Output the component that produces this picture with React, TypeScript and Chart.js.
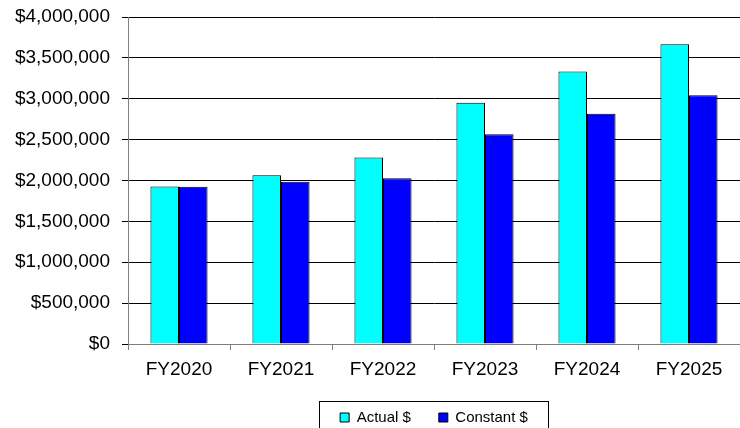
import React, { useEffect, useRef } from "react";
import { Chart, registerables } from "chart.js";

Chart.register(...registerables);

const categories = ["FY2020", "FY2021", "FY2022", "FY2023", "FY2024", "FY2025"];
const actualValues = [1927000, 2065000, 2281000, 2950000, 3333000, 3667000];
const constantValues = [1925000, 1984000, 2028000, 2566000, 2816000, 3043000];
const seriesNames = ["Actual $", "Constant $"];
const yMin = 0;
const yMax = 4000000;
const yStep = 500000;

const FONT = "'Liberation Sans', Arial, Helvetica, sans-serif";

const legendBorder = {
  id: "legendBorder",
  afterDraw(chart: any) {
    const lg = chart.legend;
    if (!lg || !lg.legendHitBoxes || !lg.legendHitBoxes.length) return;
    const boxes = lg.legendHitBoxes;
    const first = boxes[0];
    const last = boxes[boxes.length - 1];
    const left = Math.round(first.left - 21) + 0.5;
    const right = Math.round(last.left + last.width + 20) + 0.5;
    const top = Math.round(first.top - 9) + 0.5;
    const ctx = chart.ctx;
    ctx.save();
    ctx.strokeStyle = "#000";
    ctx.lineWidth = 1;
    ctx.strokeRect(left, top, right - left, 60);
    ctx.restore();
  },
};

export default function App() {
  const ref = useRef<HTMLCanvasElement | null>(null);
  useEffect(() => {
    if (!ref.current) return;
    const chart = new Chart(ref.current, {
      type: "bar",
      data: {
        labels: categories,
        datasets: [
          {
            label: seriesNames[0],
            data: actualValues,
            backgroundColor: "#00FFFF",
            borderColor: "#000",
            borderWidth: 1,
            categoryPercentage: 0.56,
            barPercentage: 1,
          },
          {
            label: seriesNames[1],
            data: constantValues,
            backgroundColor: "#0000FF",
            borderColor: "#000",
            borderWidth: 1,
            categoryPercentage: 0.56,
            barPercentage: 1,
          },
        ],
      },
      options: {
        responsive: false,
        animation: false,
        layout: { padding: { top: 17, right: 0, left: 0, bottom: -7 } },
        plugins: {
          tooltip: { enabled: false },
          legend: {
            position: "bottom",
            fullSize: false,
            labels: {
              boxWidth: 9,
              boxHeight: 9,
              padding: 28,
              color: "#000",
              font: { family: FONT, size: 15 },
            },
          },
        },
        scales: {
          x: {
            afterFit: (s: any) => {
              s.height = 38;
            },
            grid: {
              display: true,
              drawOnChartArea: false,
              drawTicks: true,
              tickLength: 6,
              color: "#808080",
            },
            border: { color: "#808080", width: 1 },
            ticks: {
              color: "#000",
              padding: 8,
              font: { family: FONT, size: 19 },
              maxRotation: 0,
            },
          },
          y: {
            min: yMin,
            max: yMax,
            afterFit: (s: any) => {
              s.width = 128;
              s.paddingTop = 0;
              s.paddingBottom = 0;
            },
            grid: {
              color: "#000",
              lineWidth: 1,
              drawTicks: true,
              tickLength: 6,
            },
            border: { color: "#808080", width: 1 },
            ticks: {
              stepSize: yStep,
              color: "#000",
              padding: 12,
              font: { family: FONT, size: 19 },
              callback: (v: any) => "$" + Number(v).toLocaleString("en-US"),
            },
          },
        },
      },
      plugins: [legendBorder],
    });
    return () => chart.destroy();
  }, []);

  return (
    <div style={{ position: "absolute", left: 0, top: 0, width: 740, height: 428, background: "#fff" }}>
      <canvas ref={ref} width={740} height={428} style={{ width: 740, height: 428, display: "block" }} />
    </div>
  );
}
